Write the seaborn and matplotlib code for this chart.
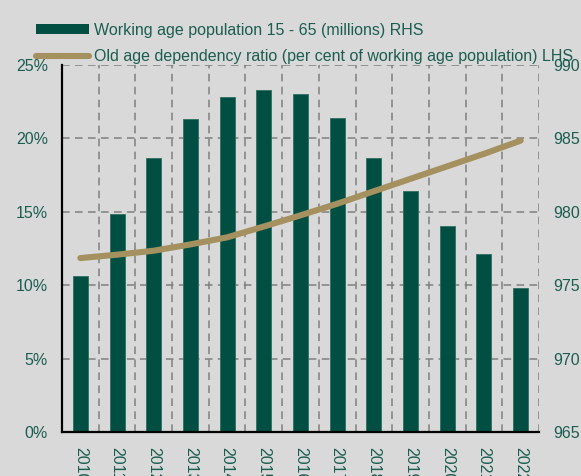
import numpy as np
import matplotlib
matplotlib.use("Agg")
import matplotlib.pyplot as plt
from matplotlib.patches import Patch
from matplotlib.lines import Line2D
import seaborn as sns

years = ["2010", "2011", "2012", "2013", "2014", "2015", "2016",
         "2017", "2018", "2019", "2020", "2021", "2022"]
working_age = [975.6, 979.85, 983.7, 986.3, 987.8, 988.3, 988.0,
               986.4, 983.7, 981.4, 979.0, 977.1, 974.8]
dependency_ratio = [11.85, 12.08, 12.35, 12.78, 13.26, 14.0, 14.76,
                    15.55, 16.4, 17.25, 18.1, 18.95, 19.85]
pct_ticks = [0, 5, 10, 15, 20, 25]
pop_ticks = [965, 970, 975, 980, 985, 990]

BG = "#d9d9d9"
BAR = "#004f42"
LINE = "#a4915f"
TEXT = "#1b5e50"
GRID = "#7f7f7f"

sns.set_theme(style="white")
plt.rcParams["font.family"] = ["Liberation Sans", "DejaVu Sans"]
plt.rcParams["font.size"] = 11.5

fig = plt.figure(figsize=(5.81, 4.76), dpi=100, facecolor=BG)
ax = fig.add_axes([0.1067, 0.0924, 0.8210, 0.7710])
ax.set_facecolor(BG)

# bars: working age population on the right-hand scale
sns.barplot(x=years, y=working_age, color=BAR, saturation=1, width=0.41,
            ax=ax, zorder=2, edgecolor="#2f6f60", linewidth=0.6)
ax.set_xlim(-0.5, len(years) - 0.5)
ax.set_ylim(pop_ticks[0], pop_ticks[-1])
ax.set_yticks(pop_ticks)
ax.set_yticklabels([str(v) for v in pop_ticks])
ax.set_xlabel("")
ax.set_ylabel("")

# dashed grid: category boundaries and 5-point steps
ax.set_xticks(np.arange(len(years) + 1) - 0.5, minor=True)
ax.set_axisbelow(True)
ax.grid(which="minor", axis="x", color=GRID, lw=1.1, ls=(0, (5, 3.5)))
ax.grid(which="major", axis="y", color=GRID, lw=1.1, ls=(0, (5, 3.5)))
ax.grid(which="major", axis="x", visible=False)
ax.tick_params(axis="x", which="both", length=0, pad=11, labelrotation=-90,
               labelcolor=TEXT, labelsize=11.5)

for side in ["top", "right", "left"]:
    ax.spines[side].set_visible(False)
ax.spines["bottom"].set_color("black")
ax.spines["bottom"].set_linewidth(1.6)
ax.spines["bottom"].set_zorder(5)

# line: old age dependency ratio on the left-hand scale
ax2 = ax.twinx()
sns.lineplot(x=np.arange(len(years)), y=dependency_ratio, color=LINE, lw=4.4,
             ax=ax2, solid_capstyle="round")
ax2.set_ylim(pct_ticks[0], pct_ticks[-1])
ax2.set_yticks(pct_ticks)
ax2.set_yticklabels([f"{v}%" for v in pct_ticks])
ax2.set_ylabel("")
for side in ["top", "right", "bottom"]:
    ax2.spines[side].set_visible(False)
ax2.spines["left"].set_color("black")
ax2.spines["left"].set_linewidth(1.6)

# percentage scale on the left, population scale on the right
ax2.yaxis.tick_left()
ax.yaxis.tick_right()
ax.tick_params(axis="y", length=0, pad=10, labelcolor=TEXT, labelsize=11.5,
               labelleft=False, labelright=True)
ax2.tick_params(axis="y", length=0, pad=10, labelcolor=TEXT, labelsize=11.5,
                labelleft=True, labelright=False)

handles = [
    Patch(facecolor=BAR, edgecolor="none"),
    Line2D([0], [0], color=LINE, lw=4.4, solid_capstyle="round"),
]
labels = [
    "Working age population 15 - 65 (millions) RHS",
    "Old age dependency ratio (per cent of working age population) LHS",
]
fig.legend(handles, labels, loc="upper left", bbox_to_anchor=(0.062, 0.952),
           frameon=False, fontsize=11.5, labelcolor=TEXT, handlelength=3.3,
           handleheight=0.6, handletextpad=0.35, labelspacing=0.72,
           borderaxespad=0, borderpad=0)

fig.savefig("out.png", dpi=100, facecolor=BG)
